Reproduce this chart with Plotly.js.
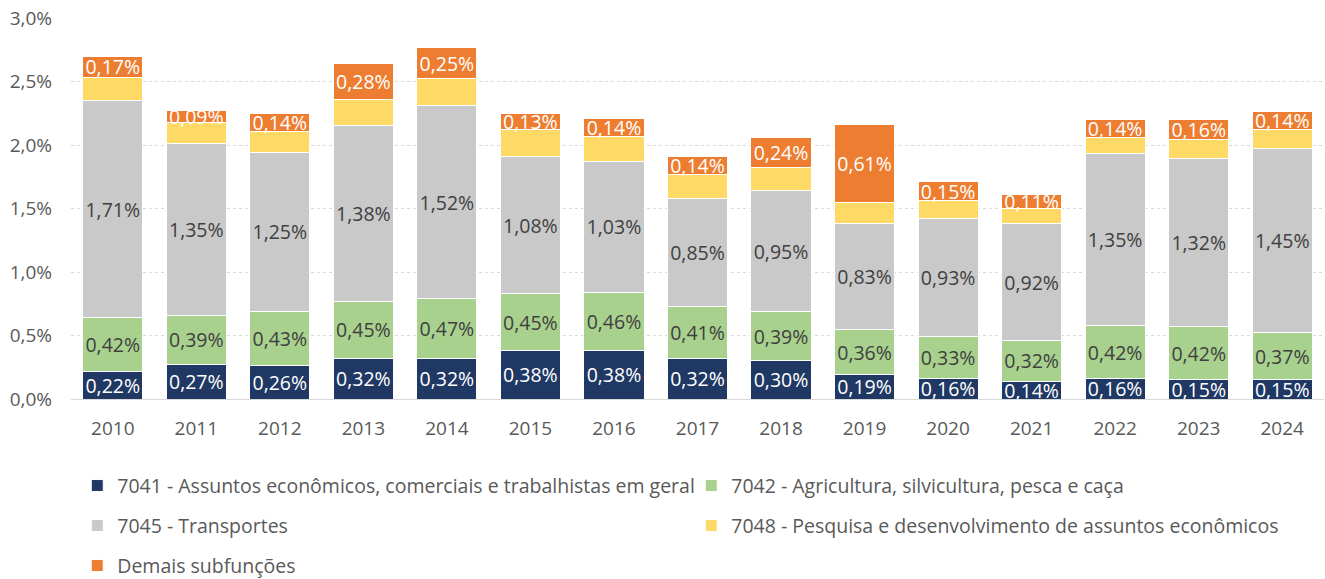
<!DOCTYPE html>
<html>
<head>
<meta charset="utf-8">
<script src="https://cdn.plot.ly/plotly-3.0.1.min.js"></script>
<style>html,body{margin:0;padding:0;background:#fff;}#chart{width:1325px;height:579px;}</style>
</head>
<body>
<div id="chart"></div>
<script>
const years = ['2010','2011','2012','2013','2014','2015','2016','2017','2018','2019','2020','2021','2022','2023','2024'];
const s7041 = [0.22,0.27,0.26,0.32,0.32,0.38,0.38,0.32,0.30,0.19,0.16,0.14,0.16,0.15,0.15];
const s7042 = [0.42,0.39,0.43,0.45,0.47,0.45,0.46,0.41,0.39,0.36,0.33,0.32,0.42,0.42,0.37];
const s7045 = [1.71,1.35,1.25,1.38,1.52,1.08,1.03,0.85,0.95,0.83,0.93,0.92,1.35,1.32,1.45];
const s7048 = [0.18,0.17,0.17,0.21,0.21,0.21,0.20,0.19,0.18,0.17,0.14,0.12,0.13,0.15,0.15];
const sDemais = [0.17,0.09,0.14,0.28,0.25,0.13,0.14,0.14,0.24,0.61,0.15,0.11,0.14,0.16,0.14];
const names = ['7041 - Assuntos econômicos, comerciais e trabalhistas em geral','7042 - Agricultura, silvicultura, pesca e caça','7045 - Transportes','7048 - Pesquisa e desenvolvimento de assuntos econômicos','Demais subfunções'];

const FONT = 'Open Sans';
const FS = 19;
const TFS = 19.5;
const fmt = v => v.toFixed(2).replace('.', ',') + '%';

function mk(vals, name, color, txtColor, showText, legend) {
  return {
    type: 'bar', x: years, y: vals, name: name, legend: legend,
    marker: {color: color, line: {color: '#ffffff', width: 1}},
    text: showText ? vals.map(fmt) : undefined,
    textposition: showText ? 'inside' : 'none',
    insidetextanchor: 'middle',
    textangle: 0,
    constraintext: 'none',
    textfont: {family: FONT, size: TFS, color: txtColor},
    hoverinfo: 'skip',
    cliponaxis: false
  };
}

const data = [
  mk(s7041, names[0], '#203864', '#ffffff', true, 'legend'),
  mk(s7042, names[1], '#a9d18e', '#404040', true, 'legend'),
  mk(s7045, names[2], '#c9c9c9', '#404040', true, 'legend2'),
  mk(s7048, names[3], '#ffd966', '#404040', false, 'legend2'),
  mk(sDemais, names[4], '#ed7d31', '#ffffff', true, 'legend3')
];

const legBase = {orientation: 'h', x: 0.005, xanchor: 'left', yanchor: 'middle',
  entrywidth: 569, entrywidthmode: 'pixels', bgcolor: 'rgba(0,0,0,0)',
  font: {family: FONT, size: 19.5, color: '#595959'}, traceorder: 'normal'};

const layout = {
  width: 1325, height: 579,
  margin: {l: 71, r: 1, t: 18, b: 180, autoexpand: false},
  barmode: 'stack', bargap: 0.28,
  separators: ',.',
  paper_bgcolor: '#ffffff', plot_bgcolor: '#ffffff',
  font: {family: FONT, size: FS, color: '#595959'},
  showlegend: true,
  xaxis: {type: 'category', showline: true, linecolor: '#d9d9d9', linewidth: 1,
    showgrid: false, ticks: '', ticklabelstandoff: 12,
    tickfont: {family: FONT, size: FS, color: '#595959'}},
  yaxis: {range: [0, 3], dtick: 0.5, tickformat: '.1f', ticksuffix: '%',
    showgrid: true, gridcolor: '#d9d9d9', griddash: 'dot', gridwidth: 1,
    zeroline: false, showline: false, ticks: '', ticklabelstandoff: 18,
    tickfont: {family: FONT, size: FS, color: '#595959'}},
  legend: Object.assign({}, legBase, {y: -0.228}),
  legend2: Object.assign({}, legBase, {y: -0.333}),
  legend3: Object.assign({}, legBase, {y: -0.438})
};

Plotly.newPlot('chart', data, layout, {displayModeBar: false, staticPlot: true});
</script>
</body>
</html>
